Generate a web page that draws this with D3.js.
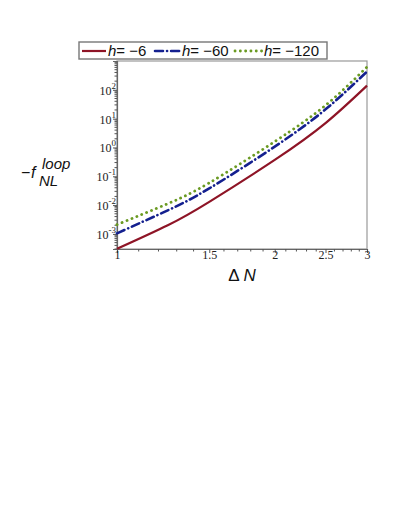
<!DOCTYPE html>
<html>
<head>
<meta charset="utf-8">
<script src="https://cdn.jsdelivr.net/npm/d3@7"></script>
<style>
  body { margin: 0; background: #fff; }
  svg { display: block; }
  .tick-label { font-family: "Liberation Serif", "DejaVu Serif", serif; font-size: 12px; fill: #222; }
  .legend-text { font-family: "Liberation Sans", Arial, sans-serif; font-size: 15px; fill: #111; }
</style>
</head>
<body>
<div id="chart"></div>
<script>
// data
var deltaN = [1, 1.25, 1.5, 2, 2.5, 3];
var fH6 = [3.05e-4, 2.0e-3, 0.013, 0.37, 7.0, 140];
var fH60 = [1.05e-3, 6.6e-3, 0.038, 1.07, 21, 430];
var fH120 = [2.1e-3, 1.12e-2, 0.059, 1.6, 29, 620];
var seriesNames = ["−6", "−60", "−120"];
var xTickValues = [1, 1.5, 2, 2.5, 3];
var yTickExps = [-3, -2, -1, 0, 1, 2];

var svgWidth = 407;
var svgHeight = 527;

var margin = { top: 61, right: 40, bottom: 278, left: 117 };
var width = 367 - margin.left;
var height = 249 - margin.top;

var svg = d3.select("#chart")
  .append("svg")
  .attr("width", svgWidth)
  .attr("height", svgHeight);

var chartGroup = svg.append("g")
  .attr("transform", `translate(${margin.left}, ${margin.top})`);

var xScale = d3.scaleLog().domain([1, 3]).range([0, width]);
var yScale = d3.scaleLog().domain([3e-4, 1000]).range([height, 0]);

// frame
chartGroup.append("rect")
  .attr("width", width)
  .attr("height", height)
  .attr("fill", "none")
  .attr("stroke", "#999")
  .attr("stroke-width", 1.2);

// x axis: major + minor ticks
var xMinor = d3.range(11, 30).map(d => d / 10).filter(d => xTickValues.indexOf(d) < 0);
var bottomAxis = d3.axisBottom(xScale).tickValues(xTickValues).tickSize(4).tickFormat(d3.format("~g"));
var xAxis = chartGroup.append("g")
  .attr("transform", `translate(0, ${height})`)
  .call(bottomAxis);
xAxis.select(".domain").attr("stroke", "#666").attr("stroke-width", 1.2);
xAxis.selectAll(".tick line").attr("stroke", "#555");
xAxis.selectAll(".tick text").attr("class", "tick-label").attr("dy", "0.5em").attr("y", 4);
chartGroup.append("g")
  .attr("transform", `translate(0, ${height})`)
  .selectAll("line")
  .data(xMinor)
  .enter()
  .append("line")
  .attr("x1", d => xScale(d))
  .attr("x2", d => xScale(d))
  .attr("y1", 0)
  .attr("y2", 2.5)
  .attr("stroke", "#555");

// y axis: decades with superscript labels + minor ticks
var leftAxis = d3.axisLeft(yScale).tickValues(yTickExps.map(e => Math.pow(10, e))).tickSize(4).tickFormat("");
var yAxis = chartGroup.append("g").call(leftAxis);
yAxis.select(".domain").attr("stroke", "#666").attr("stroke-width", 1.2);
yAxis.selectAll(".tick line").attr("stroke", "#555");

var yMinor = [];
d3.range(-4, 3).forEach(function(e) {
  d3.range(2, 10).forEach(function(m) {
    var v = m * Math.pow(10, e);
    if (v >= 3e-4 && v <= 1000) yMinor.push(v);
  });
});
chartGroup.append("g")
  .selectAll("line")
  .data(yMinor)
  .enter()
  .append("line")
  .attr("x1", -2.5)
  .attr("x2", 0)
  .attr("y1", d => yScale(d))
  .attr("y2", d => yScale(d))
  .attr("stroke", "#555");

var yLabels = chartGroup.append("g")
  .selectAll("text")
  .data(yTickExps)
  .enter()
  .append("text")
  .attr("class", "tick-label")
  .attr("text-anchor", "end")
  .attr("x", -1)
  .attr("y", e => yScale(Math.pow(10, e)) + 5);
yLabels.append("tspan").text("10");
yLabels.append("tspan")
  .attr("dy", -6)
  .attr("font-size", "9px")
  .text(e => (e < 0 ? "-" : "") + Math.abs(e));

// curves
var allSeries = [
  { values: fH6, color: "#8e1426", dash: null, width: 2.2, cap: "butt" },
  { values: fH60, color: "#14208f", dash: "8,4,0.1,4", width: 2.6, cap: "round" },
  { values: fH120, color: "#6a9a22", dash: "0.1,5.2", width: 2.8, cap: "round" }
];

var line = d3.line()
  .x(d => xScale(d[0]))
  .y(d => yScale(d[1]))
  .curve(d3.curveNatural);

allSeries.forEach(function(s) {
  chartGroup.append("path")
    .datum(deltaN.map((x, i) => [x, s.values[i]]))
    .attr("d", line)
    .attr("fill", "none")
    .attr("stroke", s.color)
    .attr("stroke-width", s.width)
    .attr("stroke-linecap", s.cap)
    .attr("stroke-dasharray", s.dash);
});

// axis titles
svg.append("text")
  .attr("x", 242)
  .attr("y", 281)
  .attr("text-anchor", "middle")
  .attr("class", "legend-text")
  .style("font-size", "17px")
  .html('Δ <tspan font-style="italic">N</tspan>');

var yTitle = svg.append("text")
  .attr("class", "legend-text")
  .style("font-size", "16px");
yTitle.append("tspan").attr("x", 21).attr("y", 178).text("−");
yTitle.append("tspan").attr("x", 31).attr("y", 178).attr("font-style", "italic").text("f");
yTitle.append("tspan").attr("x", 42).attr("y", 169).attr("font-style", "italic").attr("font-size", "15px").text("loop");
yTitle.append("tspan").attr("x", 39).attr("y", 186).attr("font-style", "italic").attr("font-size", "15px").text("NL");

// legend
var legend = svg.append("g");
legend.append("rect")
  .attr("x", 79)
  .attr("y", 42)
  .attr("width", 248)
  .attr("height", 17)
  .attr("fill", "#fff")
  .attr("stroke", "#777")
  .attr("stroke-width", 1.4);

var legendX = [[82, 106, 108], [155, 180, 182], [235, 262, 264]];
allSeries.forEach(function(s, i) {
  legend.append("line")
    .attr("x1", legendX[i][0])
    .attr("x2", legendX[i][1])
    .attr("y1", 51)
    .attr("y2", 51)
    .attr("stroke", s.color)
    .attr("stroke-width", s.width)
    .attr("stroke-linecap", s.cap)
    .attr("stroke-dasharray", s.dash);
  var t = legend.append("text")
    .attr("class", "legend-text")
    .attr("x", legendX[i][2])
    .attr("y", 56);
  t.append("tspan").attr("font-style", "italic").text("h");
  t.append("tspan").text("= " + seriesNames[i]);
});
</script>
</body>
</html>
